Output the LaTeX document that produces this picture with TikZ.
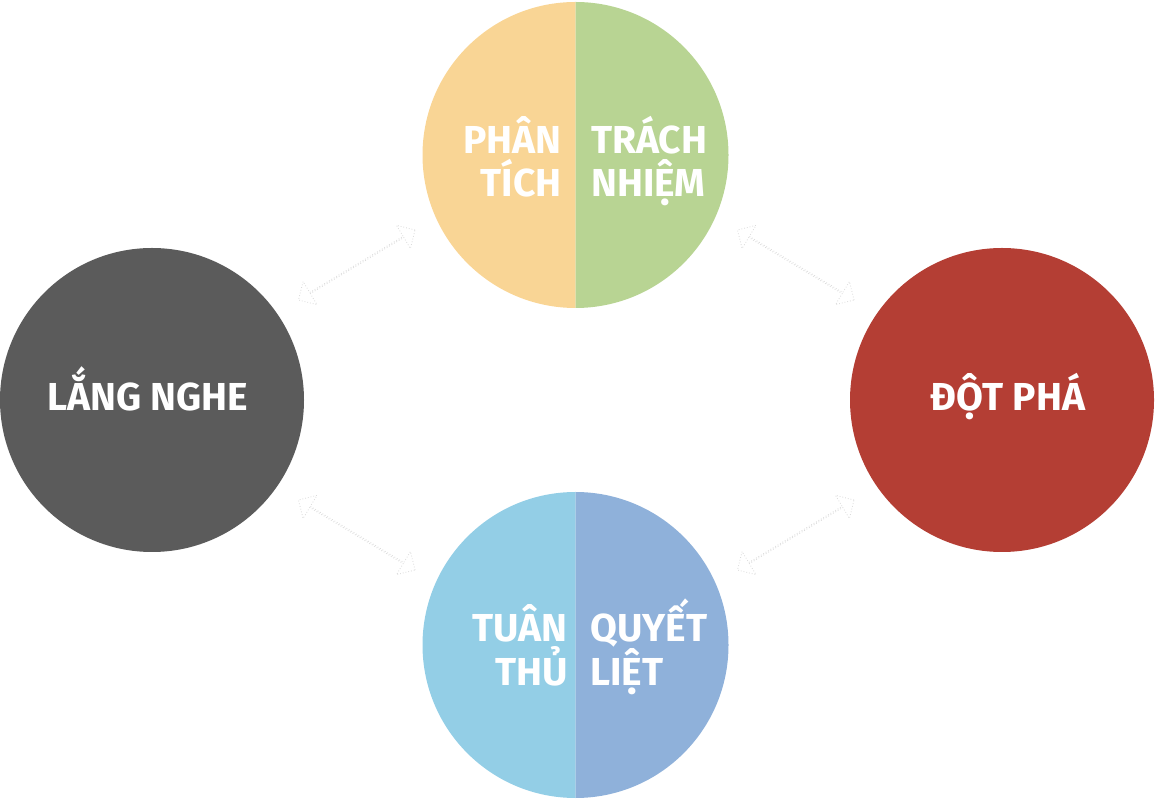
\documentclass[tikz,border=0pt]{standalone}
\usepackage{fontspec}
\setmainfont{Fira Sans}
\usetikzlibrary{shapes.arrows,calc}
\definecolor{cPeach}{HTML}{F9D595}
\definecolor{cGreen}{HTML}{B8D493}
\definecolor{cGrey}{HTML}{5B5B5B}
\definecolor{cRed}{HTML}{B43E34}
\definecolor{cLBlue}{HTML}{93CEE6}
\definecolor{cBlue}{HTML}{8FB1DA}
\tikzset{
  circ/.style={circle, minimum size=#1, inner sep=0pt, outer sep=0pt},
  lbl/.style={text=white, font=\fontsize{39}{45}\selectfont\bfseries, inner sep=0pt},
  link/.style={double arrow, draw=black!14, dotted, line width=0.8pt, fill=white,
    minimum height=136pt, minimum width=27pt, inner sep=0pt,
    double arrow head extend=8pt, double arrow head indent=0pt},
}
\begin{document}
\begin{tikzpicture}[x=1pt,y=1pt]
\useasboundingbox (0,0) rectangle (1155,800);
% circles
\node[circ=304pt, fill=cGrey] (L) at (152,400) {};
\node[circ=304pt, fill=cRed] (R) at (1002,400) {};
\node[circ=306pt] (T) at (575.5,645) {};
\node[circ=306pt] (B) at (575.5,155) {};
\fill[cPeach] (T.north) arc[start angle=90, end angle=270, radius=153] -- cycle;
\fill[cGreen] (T.south) arc[start angle=-90, end angle=90, radius=153] -- cycle;
\fill[cLBlue] (B.north) arc[start angle=90, end angle=270, radius=153] -- cycle;
\fill[cBlue] (B.south) arc[start angle=-90, end angle=90, radius=153] -- cycle;
% arrows
\node[link, rotate=31] (aTL) at ($(L)!0.5!(T)+(-7,12.5)$) {};
\node[link, rotate=-31] (aTR) at ($(T)!0.5!(R)+(7,12.5)$) {};
\node[link, rotate=-31] (aBL) at ($(L)!0.5!(B)+(-7,-12.5)$) {};
\node[link, rotate=31] (aBR) at ($(B)!0.5!(R)+(7,-12.5)$) {};
% labels
\node[lbl, anchor=base] (tL) at (148,389) {LẮNG NGHE};
\node[lbl, anchor=base] (tR) at (1008,389) {ĐỘT PHÁ};
\node[lbl, anchor=base east] (t1) at (562,646) {PHÂN};
\node[lbl, anchor=base east] (t2) at (562,603) {TÍCH};
\node[lbl, anchor=base west] (t3) at (591,646) {TRÁCH};
\node[lbl, anchor=base west] (t4) at (591,603) {NHIỆM};
\node[lbl, anchor=base east] (b1) at (568,158) {TUÂN};
\node[lbl, anchor=base east] (b2) at (568,114) {THỦ};
\node[lbl, anchor=base west] (b3) at (590,158) {QUYẾT};
\node[lbl, anchor=base west] (b4) at (590,114) {LIỆT};
\end{tikzpicture}
\end{document}
